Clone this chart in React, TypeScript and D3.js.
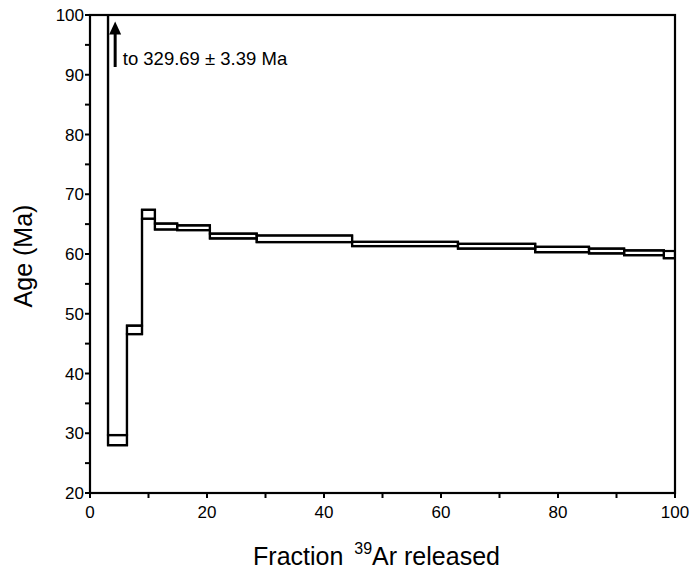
import React from "react";
import * as d3 from "d3";

// Cumulative fraction of 39Ar released at step boundaries (%)
const boundaries = [0, 3.08, 6.32, 8.89, 11.1, 14.9, 20.5, 28.5, 44.8, 62.9, 76.1, 85.3, 91.3, 98.1, 100];
// Apparent ages (Ma) and 1-sigma errors per step
const ages = [329.69, 28.85, 47.3, 66.65, 64.6, 64.4, 63.0, 62.55, 61.68, 61.3, 60.75, 60.5, 60.2, 59.9];
const errors = [3.39, 0.85, 0.7, 0.75, 0.5, 0.4, 0.4, 0.55, 0.35, 0.4, 0.45, 0.4, 0.4, 0.6];

const xTicks = [0, 10, 20, 30, 40, 50, 60, 70, 80, 90, 100];
const xLabels = [0, 20, 40, 60, 80, 100];
const yTicks = [20, 25, 30, 35, 40, 45, 50, 55, 60, 65, 70, 75, 80, 85, 90, 95, 100];
const yLabels = [20, 30, 40, 50, 60, 70, 80, 90, 100];

const annotationText = "to 329.69 ± 3.39 Ma";
const arrowX = 4.3;
const arrowTop = 98.9;
const arrowBottom = 91.3;
const textX = 5.6;
const textY = 91.6;

export default function App() {
  const W = 693, H = 569;
  const left = 90, right = 675, top = 15, bottom = 493;
  const x = d3.scaleLinear().domain([0, 100]).range([left, right]);
  const y = d3.scaleLinear().domain([20, 100]).range([bottom, top]);
  const font = "Arial, 'Liberation Sans', Helvetica, sans-serif";

  const upperPts: [number, number][] = [];
  const lowerPts: [number, number][] = [];
  ages.forEach((a, i) => {
    upperPts.push([boundaries[i], a + errors[i]], [boundaries[i + 1], a + errors[i]]);
    lowerPts.push([boundaries[i], a - errors[i]], [boundaries[i + 1], a - errors[i]]);
  });
  const line = d3.line<[number, number]>().x(d => x(d[0])).y(d => y(d[1]));

  return (
    <svg width={W} height={H} style={{ position: "absolute", left: 0, top: 0, background: "#fff" }}>
      <defs>
        <clipPath id="plotClip">
          <rect x={left} y={top} width={right - left} height={bottom - top} />
        </clipPath>
      </defs>
      <g clipPath="url(#plotClip)" fill="none" stroke="#000" strokeWidth={2.2}>
        {ages.map((a, i) => (
          <rect key={i}
            x={x(boundaries[i])} width={x(boundaries[i + 1]) - x(boundaries[i])}
            y={y(a + errors[i])} height={y(a - errors[i]) - y(a + errors[i])} />
        ))}
        <path d={line(upperPts) || ""} />
        <path d={line(lowerPts) || ""} />
      </g>
      {/* frame */}
      <rect x={left} y={top} width={right - left} height={bottom - top} fill="none" stroke="#000" strokeWidth={2.2} />
      {/* y ticks */}
      {yTicks.map(t => (
        <line key={"yt" + t} x1={left - 5} x2={left} y1={y(t)} y2={y(t)} stroke="#000" strokeWidth={2} />
      ))}
      {yLabels.map(t => (
        <text key={"yl" + t} x={left - 6} y={y(t)} dy="0.36em" textAnchor="end" fontFamily={font} fontSize={17}>{t}</text>
      ))}
      {/* x ticks */}
      {xTicks.map(t => (
        <line key={"xt" + t} x1={x(t)} x2={x(t)} y1={bottom} y2={bottom + 5} stroke="#000" strokeWidth={2} />
      ))}
      {xLabels.map(t => (
        <text key={"xl" + t} x={x(t)} y={bottom + 25} textAnchor="middle" fontFamily={font} fontSize={17}>{t}</text>
      ))}
      {/* arrow annotation */}
      <line x1={x(arrowX)} x2={x(arrowX)} y1={y(arrowBottom)} y2={y(arrowTop) + 10} stroke="#000" strokeWidth={3} />
      <path d={`M${x(arrowX)},${y(arrowTop)} L${x(arrowX) - 6},${y(arrowTop) + 13} L${x(arrowX) + 6},${y(arrowTop) + 13} Z`} fill="#000" />
      <text x={x(textX)} y={y(textY)} fontFamily={font} fontSize={18.5}>{annotationText}</text>
      {/* axis titles */}
      <text transform={`translate(32,${(top + bottom) / 2 + 2}) rotate(-90)`} textAnchor="middle" fontFamily={font} fontSize={25}>Age (Ma)</text>
      <text x={(left + right) / 2 - 6} y={565} textAnchor="middle" fontFamily={font} fontSize={25}>
        Fraction <tspan dx="4" dy="-11" fontSize={16}>39</tspan><tspan dy="11">Ar released</tspan>
      </text>
    </svg>
  );
}
